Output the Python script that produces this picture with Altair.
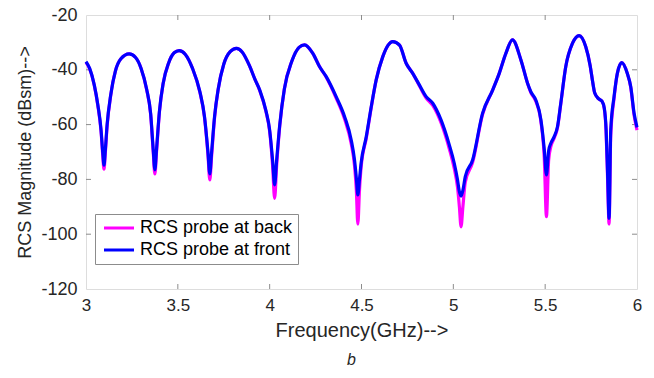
import altair as alt
import pandas as pd

# ---- data ----
freq = [3.000, 3.020, 3.045, 3.065, 3.082, 3.091, 3.098, 3.105, 3.115, 3.135,
        3.160, 3.190, 3.235, 3.270, 3.300, 3.330, 3.352, 3.366, 3.375, 3.384,
        3.400, 3.420, 3.450, 3.480, 3.507, 3.540, 3.580, 3.620, 3.645, 3.664,
        3.674, 3.684, 3.700, 3.720, 3.750, 3.785, 3.819, 3.850, 3.890, 3.920,
        3.946, 3.980, 4.000, 4.016, 4.027, 4.038, 4.055, 4.080, 4.120, 4.160,
        4.190, 4.235, 4.272, 4.308, 4.362, 4.408, 4.444, 4.462, 4.472, 4.480,
        4.489, 4.498, 4.526, 4.553, 4.580, 4.616, 4.645, 4.670, 4.707, 4.743,
        4.779, 4.815, 4.852, 4.888, 4.933, 4.978, 5.005, 5.023, 5.033, 5.042,
        5.052, 5.065, 5.105, 5.159, 5.214, 5.250, 5.286, 5.322, 5.368, 5.404,
        5.422, 5.449, 5.477, 5.495, 5.507, 5.519, 5.531, 5.549, 5.567, 5.585,
        5.612, 5.649, 5.685, 5.721, 5.745, 5.757, 5.770, 5.790, 5.810, 5.822,
        5.832, 5.840, 5.848, 5.857, 5.875, 5.893, 5.917, 5.947, 5.966, 5.984,
        6.000]

front = [-37.0, -39.5, -45.5, -53.0, -62.0, -70.0, -74.8, -69.5, -60.0, -49.0,
         -40.5, -36.0, -34.2, -35.5, -39.5, -47.0, -56.0, -69.0, -76.5, -69.0,
         -55.0, -45.0, -37.5, -33.8, -33.0, -34.3, -39.5, -48.0, -57.0, -70.0,
         -78.0, -70.0, -57.0, -47.0, -38.0, -33.4, -32.2, -33.5, -38.5, -43.5,
         -47.4, -55.0, -62.0, -73.0, -82.0, -73.0, -60.0, -47.0, -37.0, -31.8,
         -30.9, -34.0, -38.9, -42.5, -49.8, -57.1, -65.6, -72.9, -79.5, -85.7,
         -80.0, -74.0, -64.4, -53.5, -43.7, -35.2, -31.0, -29.7, -31.0, -37.6,
         -41.3, -45.5, -49.8, -52.2, -58.3, -67.4, -74.1, -80.2, -84.5, -86.1,
         -84.0, -79.0, -72.9, -55.9, -47.4, -41.3, -34.0, -29.1, -36.4, -44.9,
         -48.0, -51.0, -58.3, -69.0, -78.4, -69.5, -66.8, -64.4, -60.8, -52.2,
         -38.9, -30.3, -27.5, -31.6, -38.5, -43.7, -48.5, -50.5, -51.5, -54.0,
         -62.0, -78.0, -94.2, -62.0, -49.8, -41.3, -37.4, -41.3, -46.2, -55.8,
         -61.0]

back = [-37.3, -39.7, -45.7, -53.3, -62.5, -71.0, -76.3, -70.5, -60.5, -49.2,
        -40.5, -36.0, -34.2, -35.5, -39.5, -47.2, -56.3, -70.0, -78.0, -70.0,
        -55.3, -45.0, -37.5, -33.8, -33.0, -34.3, -39.5, -48.2, -57.3, -71.0,
        -80.2, -71.5, -57.5, -47.0, -38.0, -33.4, -32.2, -33.5, -38.5, -43.5,
        -47.6, -55.3, -62.5, -75.0, -86.9, -75.0, -60.5, -47.0, -37.0, -31.8,
        -30.9, -34.0, -38.9, -42.7, -50.3, -58.0, -67.0, -75.0, -84.0, -96.3,
        -84.0, -75.5, -65.0, -53.8, -43.7, -35.2, -31.0, -29.7, -31.0, -37.6,
        -41.3, -45.8, -50.3, -53.0, -59.3, -68.8, -76.0, -83.0, -90.0, -97.3,
        -90.0, -81.0, -73.8, -56.3, -47.4, -41.3, -34.0, -29.1, -36.4, -44.9,
        -48.3, -51.5, -59.0, -72.0, -93.6, -73.0, -68.0, -65.0, -61.2, -52.5,
        -38.9, -30.3, -27.5, -31.6, -38.5, -43.7, -48.5, -50.5, -51.5, -54.2,
        -63.0, -80.0, -96.3, -64.0, -50.5, -41.3, -37.4, -41.3, -46.5, -56.5,
        -62.0]

series_names = ["RCS probe at back", "RCS probe at front"]
series_colors = ["#ff00ff", "#0000ff"]
x_ticks = [3, 3.5, 4, 4.5, 5, 5.5, 6]
y_ticks = [-120, -100, -80, -60, -40, -20]

df = pd.DataFrame({
    "freq": freq + freq,
    "rcs": back + front,
    "series": [series_names[0]] * len(freq) + [series_names[1]] * len(freq),
})
xt_df = pd.DataFrame({"t": x_ticks[1:-1]})
yt_df = pd.DataFrame({"t": y_ticks[1:-1]})

W, H = 551, 274
FONT = "Liberation Sans"
TXT = "#262626"
BOX = "#8c8c8c"

xs = alt.Scale(domain=[3, 6], nice=False, zero=False)
ys = alt.Scale(domain=[-120, -20], nice=False, zero=False)

x_axis = alt.Axis(values=x_ticks, title="Frequency(GHz)-->", labelExpr="'' + datum.value",
                  domain=False, ticks=False, grid=False, labelFont=FONT, labelFontSize=17,
                  labelColor=TXT, labelPadding=8, titleFont=FONT, titleFontSize=20,
                  titleFontWeight="normal", titleColor=TXT, titlePadding=7, labelFlush=False)
y_axis = alt.Axis(values=y_ticks, title="RCS Magnitude (dBsm)-->", labelExpr="'' + datum.value",
                  domain=False, ticks=False, grid=False, labelFont=FONT, labelFontSize=18,
                  labelColor=TXT, labelPadding=9, titleFont=FONT, titleFontSize=18,
                  titleFontWeight="normal", titleColor=TXT, titlePadding=6, labelFlush=False)

color = alt.Color("series:N", scale=alt.Scale(domain=series_names, range=series_colors),
                  legend=alt.Legend(title=None, orient="none", legendX=9, legendY=199,
                                    direction="vertical", symbolType="M-2,0L2,0",
                                    symbolSize=225, symbolStrokeWidth=3, symbolOffset=10,
                                    labelFont=FONT, labelFontSize=18, labelColor="#000000",
                                    labelOffset=12, rowPadding=4, padding=5,
                                    strokeColor=BOX, fillColor="white"))

base = alt.Chart(df).mark_line(strokeWidth=3.2, interpolate="monotone")
line_back = base.transform_filter(alt.datum.series == series_names[0]).encode(
    x=alt.X("freq:Q", scale=xs, axis=x_axis),
    y=alt.Y("rcs:Q", scale=ys, axis=y_axis),
    color=color)
line_front = base.transform_filter(alt.datum.series == series_names[1]).encode(
    x=alt.X("freq:Q", scale=xs, axis=x_axis),
    y=alt.Y("rcs:Q", scale=ys, axis=y_axis),
    color=color)

tick_bottom = alt.Chart(xt_df).mark_rule(color=BOX, strokeWidth=1).encode(
    x=alt.X("t:Q", scale=xs, axis=x_axis), y=alt.value(H - 5), y2=alt.value(H))
tick_top = alt.Chart(xt_df).mark_rule(color=BOX, strokeWidth=1).encode(
    x=alt.X("t:Q", scale=xs, axis=x_axis), y=alt.value(0), y2=alt.value(5))
tick_left = alt.Chart(yt_df).mark_rule(color=BOX, strokeWidth=1).encode(
    y=alt.Y("t:Q", scale=ys, axis=y_axis), x=alt.value(0), x2=alt.value(5))
tick_right = alt.Chart(yt_df).mark_rule(color=BOX, strokeWidth=1).encode(
    y=alt.Y("t:Q", scale=ys, axis=y_axis), x=alt.value(W - 5), x2=alt.value(W))

chart = alt.layer(tick_bottom, tick_top, tick_left, tick_right, line_back, line_front).properties(
    width=W, height=H,
    padding={"left": 86, "top": 15, "right": 17, "bottom": 89},
    autosize=alt.AutoSizeParams(type="none"),
    title=alt.TitleParams("b", orient="bottom", font=FONT, fontSize=16, fontStyle="italic",
                          fontWeight="normal", color=TXT, anchor="middle", dx=-10, offset=12),
).configure_view(stroke=BOX, strokeWidth=1).configure(background="white")

chart.save("out.html", embed_options={"renderer": "svg", "actions": False})
